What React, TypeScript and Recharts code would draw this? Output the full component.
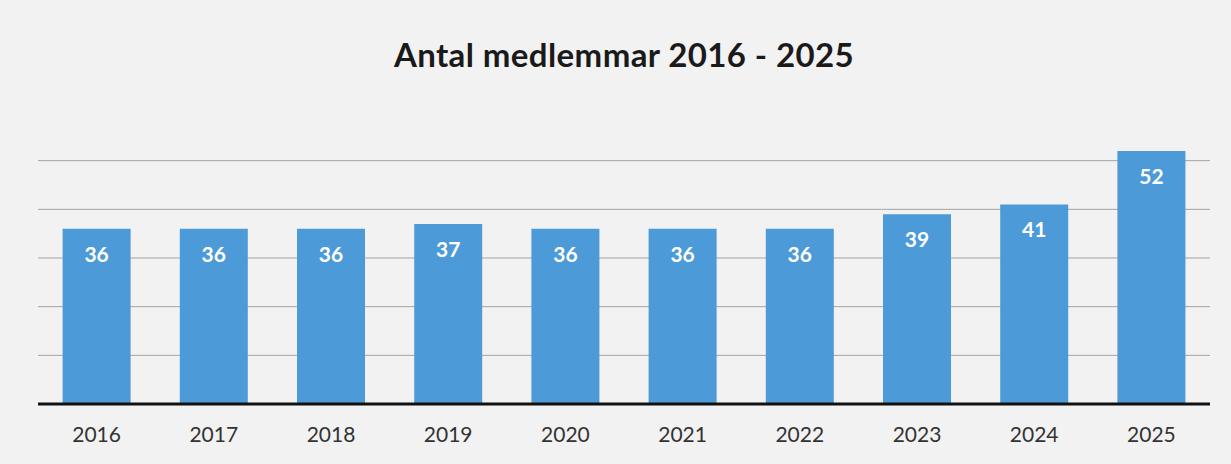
import React from "react";
import { BarChart, Bar, XAxis, YAxis, CartesianGrid, LabelList } from "recharts";

const years = ["2016", "2017", "2018", "2019", "2020", "2021", "2022", "2023", "2024", "2025"];
const members = [36, 36, 36, 37, 36, 36, 36, 39, 41, 52];
const yTicks = [0, 10, 20, 30, 40, 50];

const data = years.map((year, i) => ({ year, members: members[i] }));

const FONT = "Lato, 'Open Sans', sans-serif";

export default function App(): React.ReactNode {
  return (
    <div
      style={{
        position: "absolute",
        left: 0,
        top: 0,
        width: 1231,
        height: 464,
        background: "#f2f2f2",
        fontFamily: FONT,
      }}
    >
      <div
        style={{
          position: "absolute",
          top: 34,
          left: 0,
          width: 1248,
          textAlign: "center",
          fontSize: 33,
          fontWeight: 700,
          letterSpacing: 0.4,
          color: "#1a1a1a",
        }}
      >
        Antal medlemmar 2016 - 2025
      </div>
      <BarChart
        width={1231}
        height={464}
        data={data}
        margin={{ top: 112, right: 21, bottom: 0, left: 38 }}
        barCategoryGap="21%"
      >
        <CartesianGrid vertical={false} stroke="#a3a3a3" syncWithTicks />
        <YAxis hide domain={[0, 60]} ticks={yTicks} />
        <XAxis
          dataKey="year"
          height={60}
          axisLine={{ stroke: "#111", strokeWidth: 3 }}
          tickLine={false}
          tickMargin={17}
          tick={{ fontSize: 21, fill: "#333", fontFamily: FONT }}
        />
        <Bar dataKey="members" fill="#4c9ad7" isAnimationActive={false}>
          <LabelList
            dataKey="members"
            position="insideTop"
            offset={18}
            fill="#ffffff"
            fontSize={21}
            fontWeight={700}
            fontFamily={FONT}
          />
        </Bar>
      </BarChart>
    </div>
  );
}
